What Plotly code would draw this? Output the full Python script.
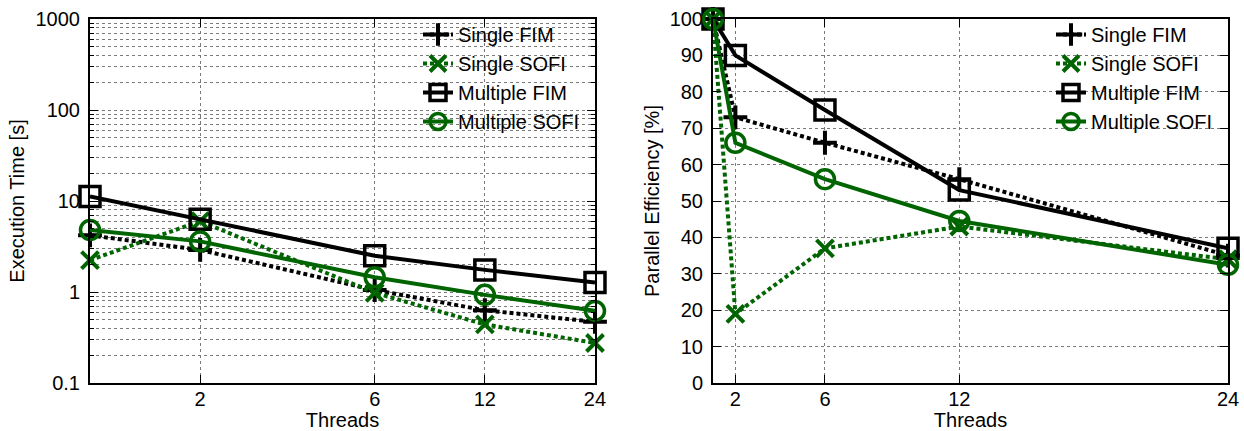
import plotly.graph_objects as go

threads = [1, 2, 6, 12, 24]
tick_threads = [2, 6, 12, 24]

series_names = ["Single FIM", "Single SOFI", "Multiple FIM", "Multiple SOFI"]

# Execution time [s]
time_single_fim = [4.2, 2.9, 1.05, 0.63, 0.47]
time_single_sofi = [2.24, 6.0, 0.98, 0.44, 0.275]
time_multiple_fim = [11.2, 6.3, 2.5, 1.75, 1.27]
time_multiple_sofi = [4.8, 3.6, 1.45, 0.93, 0.62]

# Parallel efficiency [%]
eff_single_fim = [100, 73, 66, 56, 35]
eff_single_sofi = [100, 19, 37, 43, 34]
eff_multiple_fim = [100, 90, 75, 53, 37]
eff_multiple_sofi = [100, 66, 56, 44.5, 32.5]

log_yticks = [0.1, 1, 10, 100, 1000]
log_yticktext = ["0.1", "1", "10", "100", "1000"]
eff_yticks = list(range(0, 101, 10))

GREEN = "#006400"
BLACK = "#000000"
FONT = "Liberation Sans"

styles = [
    dict(color=BLACK, dash="4px,3px", symbol="cross-thin-open", size=17, mlw=4),
    dict(color=GREEN, dash="4px,3px", symbol="x-thin-open", size=17, mlw=4),
    dict(color=BLACK, dash="solid", symbol="square-open", size=20, mlw=3.5),
    dict(color=GREEN, dash="solid", symbol="circle-open", size=19, mlw=3.5),
]

time_data = [time_single_fim, time_single_sofi, time_multiple_fim, time_multiple_sofi]
eff_data = [eff_single_fim, eff_single_sofi, eff_multiple_fim, eff_multiple_sofi]

fig = go.Figure()

for name, st, ys in zip(series_names, styles, time_data):
    fig.add_trace(go.Scatter(
        x=threads, y=ys, name=name, mode="lines+markers",
        line=dict(color=st["color"], width=4, dash=st["dash"]),
        marker=dict(symbol=st["symbol"], size=st["size"], color=st["color"],
                    line=dict(color=st["color"], width=st["mlw"])),
        xaxis="x", yaxis="y", legend="legend", cliponaxis=False,
    ))

for name, st, ys in zip(series_names, styles, eff_data):
    fig.add_trace(go.Scatter(
        x=threads, y=ys, name=name, mode="lines+markers",
        line=dict(color=st["color"], width=4, dash=st["dash"]),
        marker=dict(symbol=st["symbol"], size=st["size"], color=st["color"],
                    line=dict(color=st["color"], width=st["mlw"])),
        xaxis="x2", yaxis="y2", legend="legend2", cliponaxis=False,
    ))

W, H = 1244, 431
def px_x(p):
    return p / W
def px_y(p):
    return 1 - p / H

axis_common = dict(
    showline=True, linecolor=BLACK, linewidth=2, mirror="allticks",
    ticks="inside", ticklen=8, tickwidth=1, tickcolor=BLACK,
    showgrid=True, gridcolor="#7a7a7a", gridwidth=1, griddash="dot",
    zeroline=False, automargin=False,
    tickfont=dict(family=FONT, size=20, color=BLACK),
    title_font=dict(family=FONT, size=20, color=BLACK),
)

fig.update_layout(
    width=W, height=H,
    margin=dict(l=0, r=0, t=0, b=0),
    paper_bgcolor="white", plot_bgcolor="white",
    font=dict(family=FONT, size=20, color=BLACK),
    xaxis=dict(
        axis_common, type="log", domain=[px_x(90), px_x(595)],
        range=[-0.00001, 1.38025], tickvals=tick_threads, ticktext=[str(t) for t in tick_threads],
        ticklabelstandoff=-3,
        title=dict(text="Threads", standoff=0), anchor="y",
    ),
    yaxis=dict(
        axis_common, type="log", domain=[px_y(383), px_y(19)],
        range=[-1, 3], tickvals=log_yticks, ticktext=log_yticktext,
        ticklabelstandoff=4,
        minor=dict(ticks="inside", ticklen=4, tickcolor=BLACK, showgrid=True,
                   gridcolor="#7a7a7a", griddash="dot", gridwidth=1,
                   dtick="D1"),
        title=dict(text="Execution Time [s]", standoff=6), anchor="x",
    ),
    xaxis2=dict(
        axis_common, domain=[px_x(713), px_x(1228)],
        range=[1, 24], tickvals=tick_threads, ticktext=[str(t) for t in tick_threads],
        ticklabelstandoff=-3,
        title=dict(text="Threads", standoff=0), anchor="y2",
    ),
    yaxis2=dict(
        axis_common, domain=[px_y(383), px_y(19)],
        range=[0, 100], tickvals=eff_yticks,
        ticklabelstandoff=4,
        title=dict(text="Parallel Efficiency [%]", standoff=5), anchor="x2",
    ),
    legend=dict(
        x=px_x(585), y=px_y(15), xanchor="right", yanchor="top",
        bgcolor="rgba(255,255,255,0)", font=dict(family=FONT, size=20),
        tracegroupgap=0,
    ),
    legend2=dict(
        x=px_x(1218), y=px_y(15), xanchor="right", yanchor="top",
        bgcolor="rgba(255,255,255,0)", font=dict(family=FONT, size=20),
        tracegroupgap=0,
    ),
)

fig.write_html(
    "out.html",
    config={"displayModeBar": False},
    post_script="document.body.style.margin='0';document.body.style.overflow='hidden';",
)
